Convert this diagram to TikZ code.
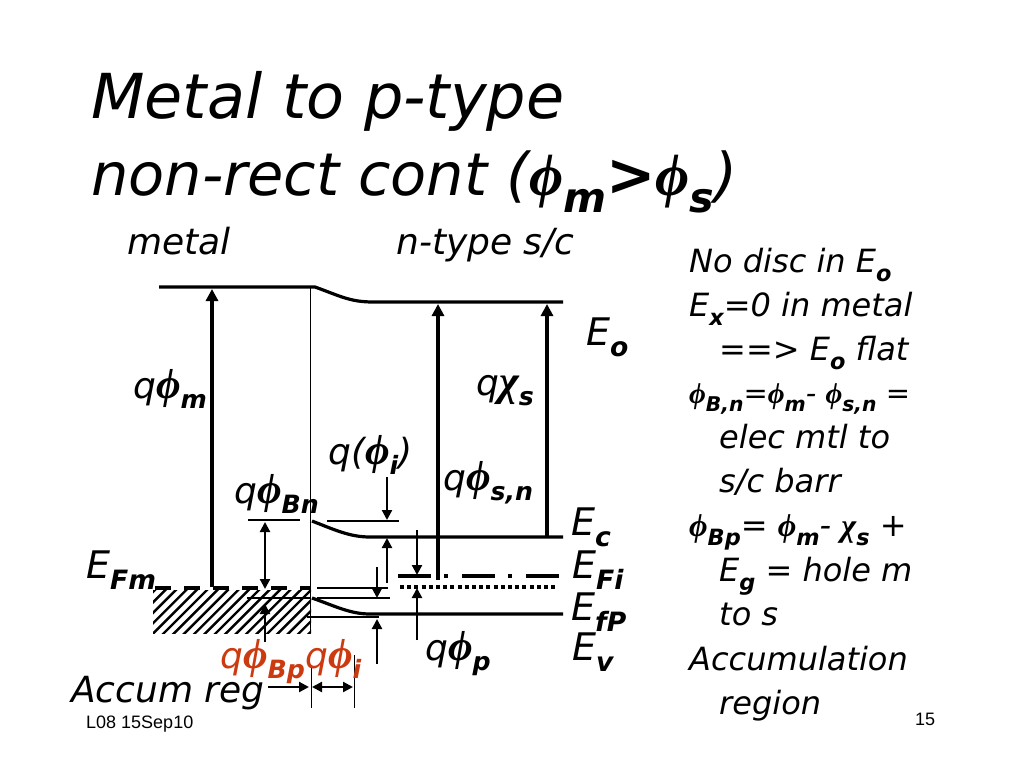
\documentclass[tikz,border=0pt]{standalone}
\usepackage{fontspec}
\usepackage{xcolor}
\usetikzlibrary{arrows.meta}
\setmainfont{DejaVu Sans}
\setsansfont{Liberation Sans}
\newfontfamily\grkfont{Liberation Serif}
\definecolor{redlabel}{HTML}{CC3A10}
\makeatletter
\newcommand{\lo}[1]{\raisebox{-.3em}{\dimen0=\f@size pt \dimen0=.7\dimen0 \fontsize{\strip@pt\dimen0}{0}\selectfont\bfseries #1}}
\newcommand{\bigger}[1]{{\dimen0=\f@size pt \dimen0=1.18\dimen0 \fontsize{\strip@pt\dimen0}{0}\selectfont #1}}
\makeatother
\newcommand{\fy}{\bigger{\grkfont\bfseries\itshape ϕ}}
\newcommand{\ki}{\bigger{\grkfont\bfseries\itshape χ}}
\newcommand{\tfy}{{\grkfont\bfseries\itshape ϕ}}
\newcommand{\tki}{{\grkfont\bfseries\itshape χ}}
\tikzset{
    band/.style={line width=3.2pt},
    thinline/.style={line width=0.7pt},
    barline/.style={line width=2.4pt},
    bigarrow/.style={line width=3.2pt,-{Triangle[length=12pt,width=12pt]}},
    smallarrow/.style={line width=2.2pt,-{Triangle[length=10pt,width=10pt]}},
    title/.style={anchor=base west,inner sep=0pt,font=\fontsize{62}{62}\selectfont\itshape},
    titlesmall/.style={anchor=base west,inner sep=0pt,font=\fontsize{59}{59}\selectfont\itshape},
    label/.style={anchor=base west,inner sep=0pt,font=\fontsize{36}{36}\selectfont\itshape},
    level/.style={anchor=base west,inner sep=0pt,font=\fontsize{38}{38}\selectfont\itshape},
    note/.style={anchor=base west,inner sep=0pt,font=\fontsize{32}{32}\selectfont\itshape},
    notesmall/.style={anchor=base west,inner sep=0pt,font=\fontsize{29}{29}\selectfont\itshape},
    foot/.style={anchor=base west,inner sep=0pt,font=\fontsize{18}{18}\selectfont\sffamily}
}
\begin{document}
\begin{tikzpicture}[x=1pt,y=-1pt]
    \useasboundingbox (0,0) rectangle (1024,768);
    %hatching of the metal
    \begin{scope}
        \clip (153,590) rectangle (311,633);
        \foreach \i in {0,...,20} {
            \draw[line width=2.4pt] (105+\i*10.4,640) -- ++(56,-56);
        }
    \end{scope}
    %interface and depletion edge
    \draw[thinline] (310,287) -- (310,633);
    \draw[thinline] (311,665) -- (311,708);
    \draw[thinline] (354,655) -- (354,708);
    %levels
    \draw[band] (159,287) -- (315,287) .. controls (340,296) and (350,302) .. (373,302) -- (563,302);
    \draw[band] (312,521) .. controls (335,530) and (350,537) .. (370,537) -- (563,537);
    \draw[band] (312,598) .. controls (335,606) and (350,614) .. (370,614) -- (563,614);
    \draw[band,dash pattern=on 16pt off 13pt] (155,588) -- (311,588);
    \draw[band,dash pattern=on 33pt off 13pt on 4pt off 14pt] (398,576) -- (559,576);
    \draw[band,dash pattern=on 4pt off 3.2pt] (400,587) -- (558,587);
    %short bars
    \draw[barline] (248,520) -- (300,520);
    \draw[barline] (247,598) -- (310,598);
    \draw[barline] (327,521) -- (399,521);
    \draw[barline] (307,617) -- (379,617);
    \draw[line width=1.2pt] (317,588) -- (388,588);
    \draw[line width=1.2pt] (317,598) -- (390,598);
    %long arrows
    \draw[bigarrow] (212,587) -- (212,289);
    \draw[bigarrow] (438,580) -- (438,304);
    \draw[bigarrow] (547,537) -- (547,304);
    %short arrows
    \draw[smallarrow,{Triangle[length=10pt,width=10pt]}-{Triangle[length=10pt,width=10pt]}] (265,522) -- (265,589);
    \draw[smallarrow] (265,642) -- (265,604);
    \draw[smallarrow] (387,477) -- (387,520);
    \draw[smallarrow] (387,583) -- (387,538);
    \draw[smallarrow] (377,567) -- (377,598);
    \draw[smallarrow] (377,664) -- (377,619);
    \draw[smallarrow] (417,530) -- (417,575);
    \draw[smallarrow] (417,640) -- (417,588);
    \draw[smallarrow] (268,687) -- (309,687);
    \draw[smallarrow,{Triangle[length=10pt,width=10pt]}-{Triangle[length=10pt,width=10pt]}] (312,687) -- (353,687);
    %title
    \node[title] (titleA) at (91,118) {Metal to p-type};
    \node[titlesmall] (titleB) at (91,195) {non-rect cont (\tfy\lo{m}\textbf{>}\tfy\lo{s})};
    %labels of the diagram
    \node[label] (metal) at (127,254) {metal};
    \node[label] (ntype) at (396,254) {n-type s/c};
    \node[level] (Eo) at (586,345) {E\lo{o}};
    \node[label] (qphim) at (133,398) {q\fy\lo{m}};
    \node[label] (qchis) at (476,395) {q\ki\lo{s}};
    \node[label] (qphii) at (328,464) {q(\fy\lo{i})};
    \node[label] (qphisn) at (443,490) {q\fy\lo{s,n}};
    \node[label] (qphiBn) at (234,503) {q\fy\lo{Bn}};
    \node[level] (Ec) at (571,535) {E\lo{c}};
    \node[level] (EFi) at (572,578) {E\lo{Fi}};
    \node[level] (EfP) at (571,620) {E\lo{fP}};
    \node[level] (Ev) at (572,660) {E\lo{v}};
    \node[level] (EFm) at (86,578) {E\lo{Fm}};
    \node[label,text=redlabel] (qphiBp) at (220,668) {q\fy\lo{Bp}};
    \node[label,text=redlabel] (qphiired) at (305,668) {q\fy\lo{i}};
    \node[label] (qphip) at (425,660) {q\fy\lo{p}};
    \node[label] (accum) at (71,702) {Accum reg};
    %notes on the right
    \node[note] (noteA) at (689,272) {No disc in E\lo{o}};
    \node[note] (noteB) at (689,316) {E\lo{x}=0 in metal};
    \node[note] (noteC) at (719,360) {==> E\lo{o} flat};
    \node[notesmall] (noteD) at (689,403) {\tfy\lo{B,n}=\tfy\lo{m}- \tfy\lo{s,n} =};
    \node[note] (noteE) at (719,448) {elec mtl to};
    \node[note] (noteF) at (719,492) {s/c barr};
    \node[note] (noteG) at (689,536) {\tfy\lo{Bp}= \tfy\lo{m}- \tki\lo{s} +};
    \node[note] (noteH) at (719,581) {E\lo{g} = hole m};
    \node[note] (noteI) at (719,625) {to s};
    \node[note] (noteJ) at (689,670) {Accumulation};
    \node[note] (noteK) at (719,714) {region};
    %footer
    \node[foot] (footL) at (86,728) {L08 15Sep10};
    \node[foot] (footR) at (915,725) {15};
\end{tikzpicture}
\end{document}
